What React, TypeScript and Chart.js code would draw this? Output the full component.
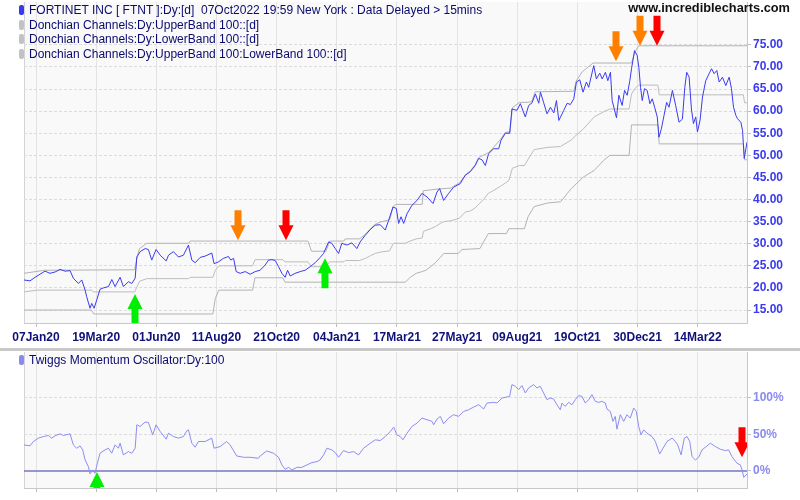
import React, { useEffect, useRef } from 'react';
import { Chart, registerables } from 'chart.js';

Chart.register(...registerables);

// ---------- DATA (x = trading-day index, 0 = 07Jan20) ----------
const xTickIdx = [0, 50, 100, 150, 200, 250, 300, 350, 400, 450, 500, 550];
const xTickLabels = ['07Jan20', '19Mar20', '01Jun20', '11Aug20', '21Oct20', '04Jan21', '17Mar21', '27May21', '09Aug21', '19Oct21', '30Dec21', '14Mar22'];
const priceTicks = [15, 20, 25, 30, 35, 40, 45, 50, 55, 60, 65, 70, 75];
const oscTicks = [0, 50, 100];

const priceIdx = [-10, -5, -0.8, 3.3, 7.5, 11.6, 15.8, 20, 24.1, 28.3, 31, 35.2, 38, 40.8, 42.1, 44.9, 46.3, 48.3, 50.5, 53.2, 56, 60.2, 63, 65.7, 69.9, 72.6, 76.8, 79.6, 82.4, 83.8, 86.5, 90.7, 93.4, 96.2, 99.8, 103.2, 108.2, 110.1, 114.2, 118.4, 122.5, 126.7, 129.5, 132.3, 136.4, 140.6, 146.1, 148, 151.7, 155.8, 160, 161.9, 164.2, 166.4, 169.7, 173.9, 178, 182.2, 186.3, 190.5, 193.3, 196.1, 198.8, 201.6, 204.4, 207.1, 209.1, 211.3, 215.4, 219.6, 223.7, 227.9, 232, 236.2, 239, 243.2, 245.9, 248.7, 251.5, 254.2, 258.4, 262.5, 266.7, 269.4, 273.6, 277.8, 281.9, 286.1, 290.3, 293.1, 296.7, 299.5, 301.4, 303.4, 305.6, 308.4, 312.5, 316.7, 320.8, 325, 330, 333.3, 335.5, 338.8, 343, 347.1, 352.6, 356.8, 361, 365.1, 367.9, 370.7, 373.5, 376.2, 380.4, 384.6, 386.5, 390.1, 393.7, 395.6, 399.8, 402.6, 406.7, 409.5, 412.3, 415.1, 417.9, 419.3, 422, 424.8, 427.6, 430.4, 432.6, 434.6, 438.7, 441.5, 444.2, 447, 449.2, 452, 454.7, 457.5, 459.4, 463.6, 465.8, 468.6, 470.6, 473.3, 475.3, 477.5, 478.9, 480.3, 482.5, 484.5, 487.2, 489.2, 491.4, 493.6, 495, 497.5, 499.7, 501.1, 502.5, 503.9, 505.8, 508, 510.3, 512.2, 514.2, 516.4, 517.8, 519.8, 522, 524.2, 526.2, 529, 531.7, 534.5, 537.3, 539.3, 540.9, 542.9, 544.8, 546.5, 548.4, 549.8, 552, 554, 556.7, 559.5, 561.5, 563.7, 565.9, 567.9, 570.6, 573.4, 576.2, 578.1, 579.8, 581.8, 583.1, 585.9, 587.3, 588.7, 590.1, 591];
const priceVal = [21.8, 21.6, 22.4, 23.1, 23.8, 23.3, 23.6, 24.2, 23.8, 23.9, 22.2, 21.0, 21.8, 19.5, 18.0, 15.4, 16.5, 15.4, 17.3, 19.7, 20.0, 20.3, 21.9, 20.3, 22.4, 20.3, 21.4, 21.0, 22.2, 27.0, 28.2, 28.9, 28.7, 26.3, 28.7, 27.4, 26.1, 27.4, 28.2, 27.0, 27.4, 29.7, 26.3, 25.7, 26.9, 27.2, 27.9, 25.5, 25.9, 26.7, 27.1, 26.3, 26.7, 23.7, 23.3, 23.7, 23.1, 23.7, 24.0, 25.2, 26.3, 26.4, 26.2, 24.8, 23.3, 22.4, 24.0, 22.7, 23.3, 23.7, 24.0, 24.8, 25.7, 26.9, 27.8, 30.4, 30.1, 28.9, 27.8, 30.1, 29.7, 30.2, 28.9, 30.4, 31.9, 33.2, 34.2, 34.3, 33.1, 35.3, 38.3, 38.0, 34.6, 36.1, 34.6, 36.8, 38.7, 39.8, 41.4, 40.6, 39.1, 41.7, 42.5, 39.8, 41.4, 42.8, 43.6, 45.5, 46.3, 47.7, 49.3, 49.0, 47.7, 50.4, 51.5, 51.5, 53.4, 55.0, 55.0, 60.5, 60.2, 61.7, 58.7, 61.3, 61.9, 63.9, 61.8, 64.3, 61.9, 59.4, 60.9, 59.6, 62.4, 57.9, 60.2, 61.8, 61.5, 62.8, 66.6, 67.1, 64.3, 66.6, 65.4, 70.3, 67.3, 68.6, 67.3, 68.8, 66.9, 68.8, 62.4, 60.9, 58.5, 63.6, 61.3, 64.7, 63.6, 66.9, 69.6, 73.7, 72.6, 69.9, 65.4, 62.4, 65.1, 64.7, 61.7, 62.8, 60.9, 58.7, 54.1, 56.0, 59.0, 62.0, 60.9, 64.7, 61.3, 57.5, 58.2, 65.4, 68.8, 67.7, 60.5, 57.2, 58.7, 55.3, 58.0, 63.2, 66.9, 68.5, 69.6, 68.5, 69.2, 66.6, 67.7, 65.8, 67.7, 65.1, 60.9, 59.0, 58.3, 57.5, 55.6, 49.3, 51.5, 53.0];

const upperIdx = [-10, 7, 82, 84, 86, 92, 127, 128, 226, 229, 241, 244, 256, 257, 269, 274, 278, 282, 286, 294, 297, 299, 321, 322, 335, 345, 347, 352, 357, 361, 365, 368, 376, 380, 386, 390, 394, 396, 402, 409, 412, 415, 447, 449, 454, 463, 495, 498, 501, 591];
const upperVal = [23.3, 24.0, 24.1, 27.0, 28.9, 30.1, 30.1, 30.6, 30.6, 28.3, 28.3, 30.6, 30.6, 31.1, 31.1, 32.2, 33.4, 34.4, 34.9, 35.4, 38.5, 38.9, 38.9, 42.0, 42.4, 42.6, 43.0, 43.8, 45.6, 46.5, 47.9, 49.5, 50.6, 51.7, 53.6, 55.2, 55.3, 60.8, 62.0, 62.0, 62.2, 64.4, 64.5, 66.8, 68.9, 70.9, 70.9, 73.5, 74.8, 74.8];

const lowerIdx = [-10, 46, 48, 147, 149, 152, 180, 182, 205, 207, 307, 311, 316, 321, 324, 328, 332, 336, 339, 351, 354, 369, 372, 376, 391, 393, 406, 409, 414, 425, 436, 445, 455, 464, 472, 477, 493, 495, 517, 518, 588, 589, 591];
const lowerVal = [15.0, 15.0, 14.1, 14.1, 17.6, 19.5, 19.5, 22.3, 22.3, 21.3, 21.3, 22.4, 23.3, 23.7, 24.0, 24.8, 25.7, 26.9, 27.8, 27.8, 28.7, 28.9, 30.4, 32.3, 32.3, 33.4, 33.4, 36.1, 38.4, 39.2, 39.5, 42.5, 45.1, 46.6, 48.9, 50.0, 50.0, 56.9, 56.9, 52.6, 52.6, 49.0, 49.0];

const midIdx = [-10, 1, 46, 48, 82, 86, 92, 127, 128, 147, 149, 152, 180, 182, 205, 207, 226, 229, 241, 244, 256, 257, 269, 274, 278, 282, 286, 294, 297, 307, 311, 316, 321, 322, 328, 332, 336, 339, 345, 352, 357, 361, 365, 369, 372, 376, 380, 386, 390, 393, 396, 402, 406, 409, 414, 425, 436, 445, 449, 455, 464, 472, 477, 493, 495, 498, 501, 517, 518, 588, 589, 591];
const midVal = [19.1, 19.5, 19.5, 19.1, 19.1, 21.5, 22.1, 22.1, 22.4, 22.4, 24.0, 25.0, 25.0, 26.4, 26.4, 25.9, 25.9, 24.8, 24.8, 25.9, 25.9, 26.2, 26.2, 26.7, 27.3, 27.8, 28.1, 28.4, 30.1, 30.1, 30.6, 31.1, 31.3, 32.8, 33.4, 33.9, 34.6, 35.0, 35.2, 35.8, 37.2, 37.4, 38.1, 39.2, 40.0, 41.4, 42.0, 43.0, 43.7, 44.3, 47.1, 47.7, 47.7, 49.1, 51.3, 51.8, 52.0, 53.5, 54.6, 56.0, 58.7, 59.9, 60.5, 60.5, 63.9, 65.2, 65.9, 65.9, 63.7, 63.7, 61.9, 61.9];

const oscIdx = [-10, -5, -2.2, 1.9, 6.1, 10.3, 13, 15.8, 20, 22.7, 28.3, 31, 33.8, 36.6, 38.8, 40.8, 43.5, 44.9, 47.2, 49, 51, 53.2, 57.4, 60.2, 62.9, 65.7, 68.5, 69.9, 72.6, 76.8, 79.6, 82.4, 83.8, 86.5, 90.7, 93.4, 97, 99.8, 103.2, 108.2, 110.1, 114.2, 118.4, 122.5, 125.3, 126.7, 129.5, 132.3, 135, 140.6, 146.1, 148, 153, 158.5, 161.3, 166.8, 172.4, 177.9, 184.8, 186.3, 191.8, 197.4, 201.6, 204.4, 207.1, 209.9, 212.7, 216.8, 221, 225.1, 229.3, 233.5, 236.2, 239, 241.8, 245.9, 248.7, 251.5, 255.6, 259.8, 263.9, 268.1, 272.3, 277.8, 282, 286.1, 290.3, 294.5, 297.3, 300, 302.8, 305, 308.4, 312.5, 316.7, 320.8, 325, 329.2, 330.5, 333.3, 336.1, 338.8, 343, 347.1, 351.3, 355.5, 359.6, 363.8, 368, 372.1, 374.9, 380.4, 383.2, 387.4, 391.5, 393.7, 395.6, 398.4, 401.2, 403.9, 406.7, 409.5, 413.6, 416.4, 419.1, 421.9, 424.7, 427.5, 430.2, 433, 435.8, 437.2, 439.9, 442.7, 445.5, 448.3, 451, 453.8, 456.6, 459.4, 462.1, 464.9, 467.7, 470.4, 473.2, 474.6, 477.4, 479.6, 481.5, 482.9, 485.7, 488.5, 491.2, 494, 496.8, 499, 501, 502.9, 505.1, 507.9, 512, 514.8, 518.4, 521.2, 524.5, 528.7, 531.5, 533.4, 536.2, 538.9, 541.2, 543.4, 545.3, 548.1, 550.8, 553.6, 557.8, 560.5, 564.7, 568.8, 573, 575.8, 578.5, 582.7, 585.5, 586.9, 588.3, 591];
const oscVal = [35.8, 34.4, 40.4, 45.0, 47.2, 48.6, 45.0, 48.2, 50.9, 48.6, 50.9, 35.8, 31.2, 34.4, 28.9, 15.1, 6.0, -4.1, 1.4, -3.2, 10.6, 24.3, 28.9, 31.2, 24.3, 35.8, 31.2, 38.1, 22.0, 26.6, 24.3, 31.2, 63.3, 61.0, 67.0, 66.5, 49.5, 63.3, 54.1, 43.6, 51.8, 47.2, 45.0, 47.2, 55.0, 56.4, 38.1, 32.6, 40.4, 40.4, 45.0, 31.2, 33.5, 40.4, 35.8, 20.6, 18.8, 18.8, 17.4, 20.6, 27.5, 24.3, 18.8, 8.3, 2.3, 5.0, 1.4, 5.0, 5.0, 8.3, 11.5, 12.8, 15.1, 22.0, 31.2, 28.9, 25.2, 18.8, 28.0, 25.2, 26.6, 22.0, 31.2, 38.1, 42.7, 41.7, 47.2, 54.1, 60.1, 49.5, 47.2, 42.7, 51.8, 61.0, 65.6, 72.5, 70.2, 67.9, 63.3, 71.1, 74.8, 64.7, 72.5, 77.1, 74.8, 81.6, 83.9, 87.6, 90.8, 84.9, 93.1, 94.0, 93.1, 100, 101.4, 102.3, 118.3, 116.1, 111.5, 117.0, 106.9, 113.8, 118.3, 113.8, 116.1, 106.9, 97.7, 100, 98.6, 90.8, 83.9, 93.1, 88.5, 94.0, 90.8, 97.7, 103.2, 102.3, 93.1, 97.7, 104.6, 95.4, 94.0, 95.4, 93.1, 84.9, 81.6, 67.9, 74.8, 57.3, 77.1, 67.9, 77.1, 72.5, 86.2, 81.6, 61.0, 49.5, 56.4, 51.8, 47.2, 40.4, 23.4, 31.2, 40.4, 45.0, 40.4, 35.8, 22.0, 45.0, 47.2, 40.4, 19.7, 15.1, 18.8, 28.9, 34.4, 38.1, 33.5, 29.8, 28.0, 28.9, 19.7, 10.6, 8.3, 1.4, -8.7, -4.1];

// signal arrows (tip at value)
const priceSignalIdx = [82.4, 240.4, 168.3, 208, 481.7, 502, 516.4];
const priceSignalTip = [18.6, 26.7, 30.8, 30.8, 71.3, 74.8, 74.8];
const priceSignalKind = ['buy', 'buy', 'warn', 'sell', 'warn', 'warn', 'sell'];
const oscSignalIdx = [50.5, 587];
const oscSignalTip = [-1.5, 18.8];
const oscSignalKind = ['buy', 'sell'];

// ---------- STYLE ----------
const FONT = '"Liberation Sans", Arial, Helvetica, sans-serif';
const KIND_STYLE: Record<string, { color: string; dir: number }> = {
  buy: { color: '#00ee00', dir: -1 },
  warn: { color: '#ff8000', dir: 1 },
  sell: { color: '#ff0000', dir: 1 },
};

const plotBg = {
  id: 'plotBg',
  beforeDraw(chart: any) {
    const { ctx, chartArea: a } = chart;
    ctx.save();
    ctx.fillStyle = '#f9f9f9';
    ctx.fillRect(a.left, a.top, a.right - a.left, a.bottom - a.top);
    ctx.strokeStyle = '#d4d4d4';
    ctx.lineWidth = 1;
    ctx.beginPath();
    ctx.moveTo(a.left + 0.5, a.top);
    ctx.lineTo(a.left + 0.5, a.bottom);
    ctx.stroke();
    ctx.restore();
  },
};

const zeroLine = {
  id: 'zeroLine',
  beforeDatasetsDraw(chart: any) {
    const { ctx, chartArea: a } = chart;
    const y = chart.scales.y.getPixelForValue(0);
    ctx.save();
    ctx.strokeStyle = '#7676c0';
    ctx.lineWidth = 1.5;
    ctx.beginPath();
    ctx.moveTo(a.left, y);
    ctx.lineTo(a.right, y);
    ctx.stroke();
    ctx.restore();
  },
};

const signalArrows = {
  id: 'signalArrows',
  afterDatasetsDraw(chart: any, _args: any, opts: any) {
    const { ctx, chartArea: a } = chart;
    const xs = chart.scales.x;
    const ys = chart.scales.y;
    const idx: number[] = opts.idx || [];
    const tip: number[] = opts.tip || [];
    const kind: string[] = opts.kind || [];
    ctx.save();
    ctx.beginPath();
    ctx.rect(a.left, a.top, a.right - a.left, a.bottom - a.top);
    ctx.clip();
    idx.forEach((v, i) => {
      const st = KIND_STYLE[kind[i]];
      const px = Math.round(xs.getPixelForValue(v));
      const py = ys.getPixelForValue(tip[i]);
      const d = st.dir; // 1: pointing down (body above), -1: pointing up
      const headH = 15, headW = 7.5, shaftW = 3.5, total = 30;
      ctx.fillStyle = st.color;
      ctx.beginPath();
      ctx.moveTo(px, py);
      ctx.lineTo(px + headW, py - d * headH);
      ctx.lineTo(px + shaftW, py - d * headH);
      ctx.lineTo(px + shaftW, py - d * total);
      ctx.lineTo(px - shaftW, py - d * total);
      ctx.lineTo(px - shaftW, py - d * headH);
      ctx.lineTo(px - headW, py - d * headH);
      ctx.closePath();
      ctx.fill();
    });
    ctx.restore();
  },
};

const pts = (xs: number[], ys: number[]) => xs.map((x, i) => ({ x, y: ys[i] }));

function xAxis(showLabels: boolean, height: number) {
  return {
    type: 'linear',
    min: -10,
    max: 591,
    afterBuildTicks: (scale: any) => {
      scale.ticks = xTickIdx.map((v) => ({ value: v }));
    },
    afterFit: (scale: any) => {
      scale.height = height;
      scale.paddingLeft = 0;
      scale.paddingRight = 0;
      scale.paddingTop = 0;
      scale.paddingBottom = 0;
    },
    grid: { color: '#e3e3e3', lineWidth: 1, tickLength: 4, tickColor: '#bcbcbc' },
    border: { display: true, color: '#c8c8c8' },
    ticks: {
      display: showLabels,
      autoSkip: false,
      maxRotation: 0,
      padding: 3,
      color: '#10107a',
      font: { family: FONT, size: 12, weight: 'bold' },
      callback: (_v: any, i: number) => xTickLabels[i],
    },
  };
}

function yAxisFit(scale: any) {
  scale.width = 53;
  scale.paddingTop = 0;
  scale.paddingBottom = 0;
  scale.paddingLeft = 0;
  scale.paddingRight = 0;
}

function PriceChart() {
  const ref = useRef<HTMLCanvasElement>(null);
  useEffect(() => {
    const chart = new Chart(ref.current as HTMLCanvasElement, {
      type: 'line',
      data: {
        datasets: [
          { data: pts(priceIdx, priceVal), borderColor: '#3b3bf2', borderWidth: 1, pointRadius: 0, tension: 0 },
          { data: pts(upperIdx, upperVal), borderColor: '#b3b3b3', borderWidth: 1, pointRadius: 0, tension: 0 },
          { data: pts(lowerIdx, lowerVal), borderColor: '#b3b3b3', borderWidth: 1, pointRadius: 0, tension: 0 },
          { data: pts(midIdx, midVal), borderColor: '#bdbdbd', borderWidth: 1, pointRadius: 0, tension: 0 },
        ],
      } as any,
      options: {
        animation: false,
        responsive: false,
        devicePixelRatio: 1,
        events: [],
        layout: { padding: { left: 24, top: 2, right: 0, bottom: 0 } },
        plugins: {
          legend: { display: false },
          tooltip: { enabled: false },
          signalArrows: { idx: priceSignalIdx, tip: priceSignalTip, kind: priceSignalKind },
        } as any,
        scales: {
          x: xAxis(true, 25) as any,
          y: {
            type: 'linear',
            position: 'right',
            min: 12.06,
            max: 84.71,
            afterBuildTicks: (scale: any) => {
              scale.ticks = priceTicks.map((v) => ({ value: v }));
            },
            afterFit: yAxisFit,
            grid: { color: '#dcdcdc', tickLength: 4, tickColor: '#c0c0c0' },
            border: { display: true, color: '#c8c8c8', dash: [3, 2] },
            ticks: {
              padding: 2,
              color: '#3a3aee',
              font: { family: FONT, size: 12, weight: 'bold' },
              callback: (v: any) => Number(v).toFixed(2),
            },
          } as any,
        },
      },
      plugins: [plotBg, signalArrows],
    });
    return () => chart.destroy();
  }, []);
  return <canvas ref={ref} width={800} height={348} style={{ display: 'block' }} />;
}

function OscChart() {
  const ref = useRef<HTMLCanvasElement>(null);
  useEffect(() => {
    const chart = new Chart(ref.current as HTMLCanvasElement, {
      type: 'line',
      data: {
        datasets: [
          { data: pts(oscIdx, oscVal), borderColor: '#8d8df4', borderWidth: 1, pointRadius: 0, tension: 0 },
        ],
      } as any,
      options: {
        animation: false,
        responsive: false,
        devicePixelRatio: 1,
        events: [],
        layout: { padding: { left: 24, top: 1, right: 0, bottom: 0 } },
        plugins: {
          legend: { display: false },
          tooltip: { enabled: false },
          signalArrows: { idx: oscSignalIdx, tip: oscSignalTip, kind: oscSignalKind },
        } as any,
        scales: {
          x: xAxis(false, 12) as any,
          y: {
            type: 'linear',
            position: 'right',
            min: -23.3,
            max: 163,
            afterBuildTicks: (scale: any) => {
              scale.ticks = oscTicks.map((v) => ({ value: v }));
            },
            afterFit: yAxisFit,
            grid: { color: (c: any) => (c.tick && c.tick.value === 0 ? 'rgba(0,0,0,0)' : '#dcdcdc'), tickLength: 4, tickColor: '#c0c0c0' },
            border: { display: true, color: '#c8c8c8', dash: [3, 2] },
            ticks: {
              padding: 2,
              color: '#8a8aee',
              font: { family: FONT, size: 12, weight: 'bold' },
              callback: (v: any) => `${v}%`,
            },
          } as any,
        },
      },
      plugins: [plotBg, zeroLine, signalArrows],
    });
    return () => chart.destroy();
  }, []);
  return <canvas ref={ref} width={800} height={149} style={{ display: 'block' }} />;
}

const legendRows = [
  { text: 'FORTINET INC [ FTNT ]:Dy:[d]  07Oct2022 19:59 New York : Data Delayed > 15mins', swatch: '#3838f0' },
  { text: 'Donchian Channels:Dy:UpperBand 100::[d]', swatch: '#c2c2c2' },
  { text: 'Donchian Channels:Dy:LowerBand 100::[d]', swatch: '#c2c2c2' },
  { text: 'Donchian Channels:Dy:UpperBand 100:LowerBand 100::[d]', swatch: '#c2c2c2' },
];

function LegendRow({ top, text, swatch }: { top: number; text: string; swatch: string }) {
  return (
    <div style={{ position: 'absolute', left: 19, top, height: 14, display: 'flex', alignItems: 'center', whiteSpace: 'pre' }}>
      <span style={{ display: 'inline-block', width: 5, height: 10, borderRadius: 2, background: swatch, marginRight: 5 }} />
      <span style={{ font: `12px ${FONT}`, color: '#0a0a70', lineHeight: '14px' }}>{text}</span>
    </div>
  );
}

export default function App() {
  return (
    <div style={{ position: 'absolute', left: 0, top: 0, width: 800, height: 500, background: '#ffffff', overflow: 'hidden' }}>
      <div style={{ position: 'absolute', left: 0, top: 0 }}>
        <PriceChart />
      </div>
      {legendRows.map((r, i) => (
        <LegendRow key={i} top={3 + i * 14.7} text={r.text} swatch={r.swatch} />
      ))}
      <div style={{ position: 'absolute', right: 10, top: 1, font: `bold 12.8px ${FONT}`, color: '#111', lineHeight: '14px' }}>
        www.incrediblecharts.com
      </div>
      <div style={{ position: 'absolute', left: 0, top: 348, width: 800, height: 3, background: '#c8c8c8' }} />
      <div style={{ position: 'absolute', left: 0, top: 351 }}>
        <OscChart />
      </div>
      <LegendRow top={353} text="Twiggs Momentum Oscillator:Dy:100" swatch="#8a8aee" />
    </div>
  );
}
